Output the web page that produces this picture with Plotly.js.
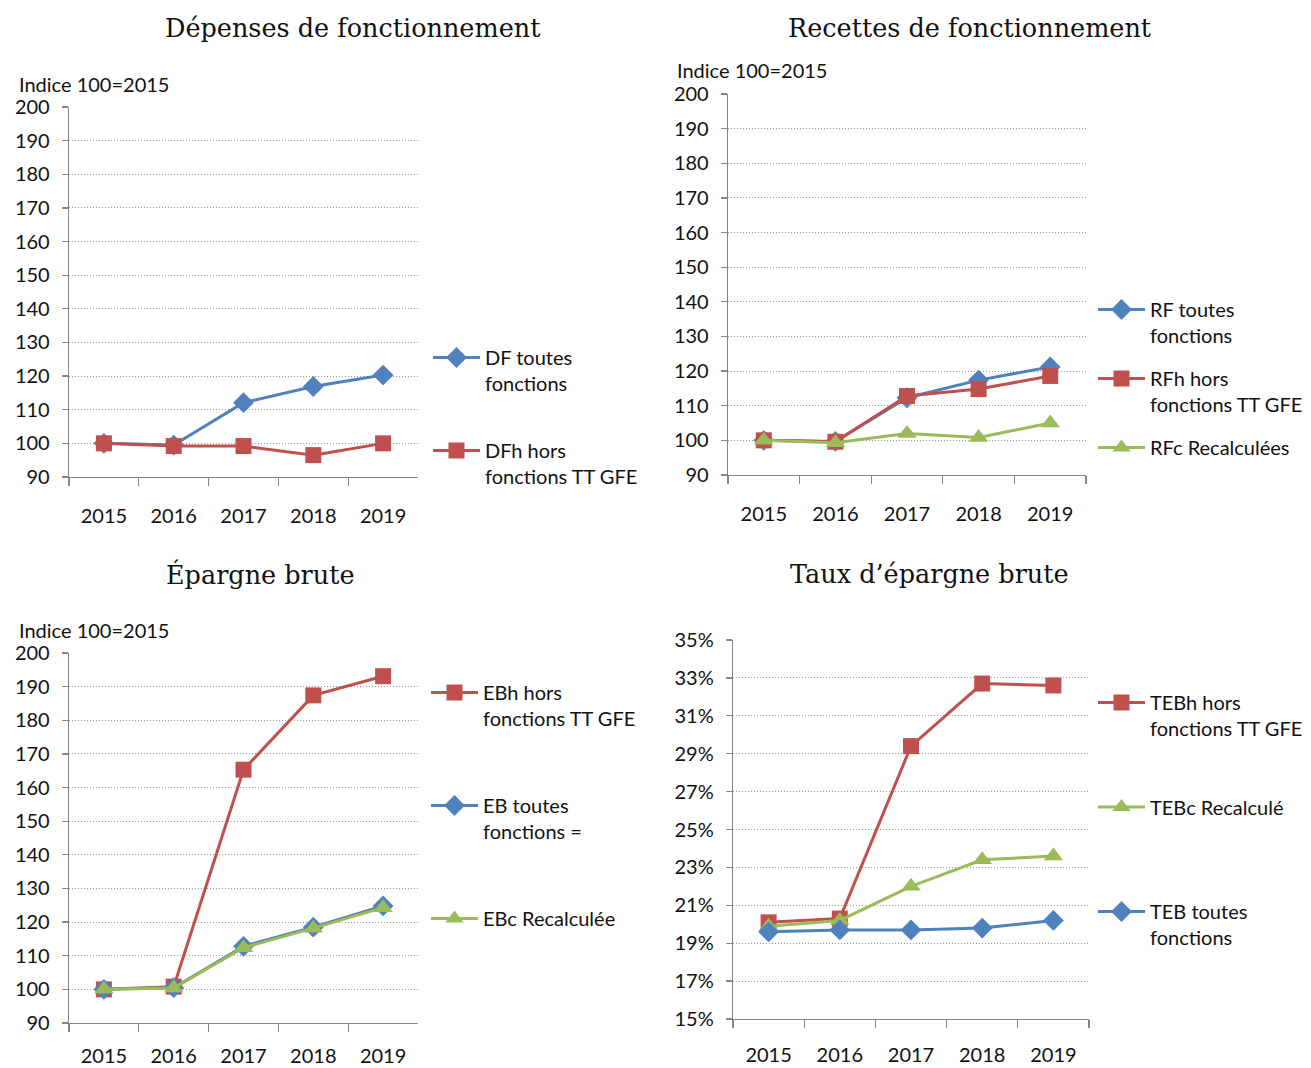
<!DOCTYPE html>
<html>
<head>
<meta charset="utf-8">
<script src="https://cdn.plot.ly/plotly-3.0.1.min.js"></script>
<style>html,body{margin:0;padding:0;background:#fff;}#chart{width:1311px;height:1068px;}</style>
</head>
<body>
<div id="chart"></div>
<script>
// ---- Data ----
const years = ['2015', '2016', '2017', '2018', '2019'];

const dfToutes = [100, 99.5, 112.1, 116.9, 120.3];
const dfHors   = [100, 99.2, 99.2, 96.5, 100.0];

const rfToutes = [100, 99.7, 112.3, 117.4, 121.2];
const rfHors   = [100, 99.6, 112.8, 114.8, 118.6];
const rfRecalc = [100, 99.3, 102.0, 100.8, 105.0];

const ebHors   = [100, 100.8, 165.3, 187.4, 193.1];
const ebToutes = [100, 100.5, 112.8, 118.5, 124.8];
const ebRecalc = [100, 100.4, 112.4, 118.2, 124.3];

const tebHors   = [0.201, 0.203, 0.294, 0.327, 0.326];
const tebRecalc = [0.199, 0.202, 0.220, 0.234, 0.236];
const tebToutes = [0.196, 0.197, 0.197, 0.198, 0.202];

const titles = ['Dépenses de fonctionnement', 'Recettes de fonctionnement', 'Épargne brute', 'Taux d’épargne brute'];
const indexLabel = 'Indice 100=2015';

// ---- Styles ----
const BLUE = '#4F81BD', RED = '#C0504D', GREEN = '#9BBB59';
const AXC = '#868686';
const FONT = 'Lato, "Open Sans", sans-serif';
const SERIF = '"DejaVu Serif", "Liberation Serif", serif';

function tr(name, y, color, symbol, xa, ya, legend, size) {
  return {
    type: 'scatter', mode: 'lines+markers', x: years, y: y, name: name,
    xaxis: xa, yaxis: ya, legend: legend, legendgroup: name,
    line: {color: color, width: 3},
    marker: {color: color, symbol: symbol, size: size}
  };
}

const data = [
  tr('DF toutes<br>fonctions', dfToutes, BLUE, 'diamond', 'x', 'y', 'legend', 16),
  tr('DFh hors<br>fonctions TT GFE', dfHors, RED, 'square', 'x', 'y', 'legend', 16),

  tr('RF toutes<br>fonctions', rfToutes, BLUE, 'diamond', 'x2', 'y2', 'legend2', 16),
  tr('RFh hors<br>fonctions TT GFE', rfHors, RED, 'square', 'x2', 'y2', 'legend2', 16),
  tr('RFc Recalculées<br> ', rfRecalc, GREEN, 'triangle-up', 'x2', 'y2', 'legend2', 17),

  tr('EBh hors<br>fonctions TT GFE', ebHors, RED, 'square', 'x3', 'y3', 'legend3', 16),
  tr('EB toutes<br>fonctions =', ebToutes, BLUE, 'diamond', 'x3', 'y3', 'legend3', 16),
  tr('EBc Recalculée<br> ', ebRecalc, GREEN, 'triangle-up', 'x3', 'y3', 'legend3', 17),

  tr('TEBh hors<br>fonctions TT GFE', tebHors, RED, 'square', 'x4', 'y4', 'legend4', 16),
  tr('TEBc Recalculé<br> ', tebRecalc, GREEN, 'triangle-up', 'x4', 'y4', 'legend4', 17),
  tr('TEB toutes<br>fonctions', tebToutes, BLUE, 'diamond', 'x4', 'y4', 'legend4', 16)
];

const W = 1311, H = 1068;
const px = v => v / W;
const py = v => 1 - v / H;

function xax(l, r, anchor, standoff) {
  return {
    domain: [px(l), px(r)], anchor: anchor, type: 'category', categoryorder: 'array', categoryarray: years,
    range: [-0.5, 4.5], tickson: 'boundaries', ticks: 'outside', ticklen: 8, tickwidth: 1.3, tickcolor: AXC,
    showline: true, linecolor: AXC, linewidth: 1.3, showgrid: false, zeroline: false,
    ticklabelstandoff: standoff, tickfont: {family: FONT, size: 20, color: '#111'}, fixedrange: true
  };
}
function yax(top, bottom, anchor, range, dtick, fmt) {
  const a = {
    domain: [py(bottom), py(top)], anchor: anchor, range: range, dtick: dtick, tick0: range[0],
    showgrid: true, gridcolor: '#999999', griddash: '1px,2px', gridwidth: 1,
    showline: true, linecolor: AXC, linewidth: 1.3, ticks: 'outside', ticklen: 6, tickwidth: 1.3, tickcolor: AXC,
    zeroline: false, ticklabelstandoff: 8, tickfont: {family: FONT, size: 20, color: '#111'}, fixedrange: true
  };
  if (fmt) a.tickformat = fmt;
  return a;
}

function leg(x, y, gap) {
  return {
    x: px(x), y: py(y), xanchor: 'left', yanchor: 'top', valign: 'top',
    font: {family: FONT, size: 20, color: '#111'}, bgcolor: 'rgba(0,0,0,0)',
    tracegroupgap: gap, itemwidth: 47, traceorder: 'grouped', itemclick: false, itemdoubleclick: false
  };
}

function ann(text, x, y, anchor, font) {
  return {text: text, x: px(x), y: py(y), xref: 'paper', yref: 'paper', xanchor: anchor, yanchor: 'middle',
          showarrow: false, font: font};
}
const titleFont = {family: SERIF, size: 25.5, color: '#111'};
const labFont = {family: FONT, size: 20, color: '#111'};

const layout = {
  width: W, height: H, margin: {l: 0, r: 0, t: 0, b: 0},
  paper_bgcolor: '#fff', plot_bgcolor: '#fff',
  xaxis: xax(69, 418, 'y', 21),      yaxis: yax(107, 477, 'x', [90, 200], 10),
  xaxis2: xax(728, 1086, 'y2', 21),  yaxis2: yax(94, 475, 'x2', [90, 200], 10),
  xaxis3: xax(69, 418, 'y3', 15),    yaxis3: yax(653, 1023, 'x3', [90, 200], 10),
  xaxis4: xax(733, 1089, 'y4', 18),  yaxis4: yax(640, 1019, 'x4', [0.15, 0.35], 0.02, '.0%'),
  legend: leg(428, 338, 38),
  legend2: leg(1093, 290, 14),
  legend3: leg(426, 673, 58),
  legend4: leg(1093, 683, 49.5),
  annotations: [
    ann(titles[0], 353, 28, 'center', titleFont),
    ann(titles[1], 970, 28, 'center', titleFont),
    ann(titles[2], 260, 574, 'center', titleFont),
    ann(titles[3], 929, 574, 'center', titleFont),
    ann(indexLabel, 17, 84, 'left', labFont),
    ann(indexLabel, 675, 70, 'left', labFont),
    ann(indexLabel, 17, 630, 'left', labFont)
  ]
};

Plotly.newPlot('chart', data, layout, {displayModeBar: false, staticPlot: true});
</script>
</body>
</html>
